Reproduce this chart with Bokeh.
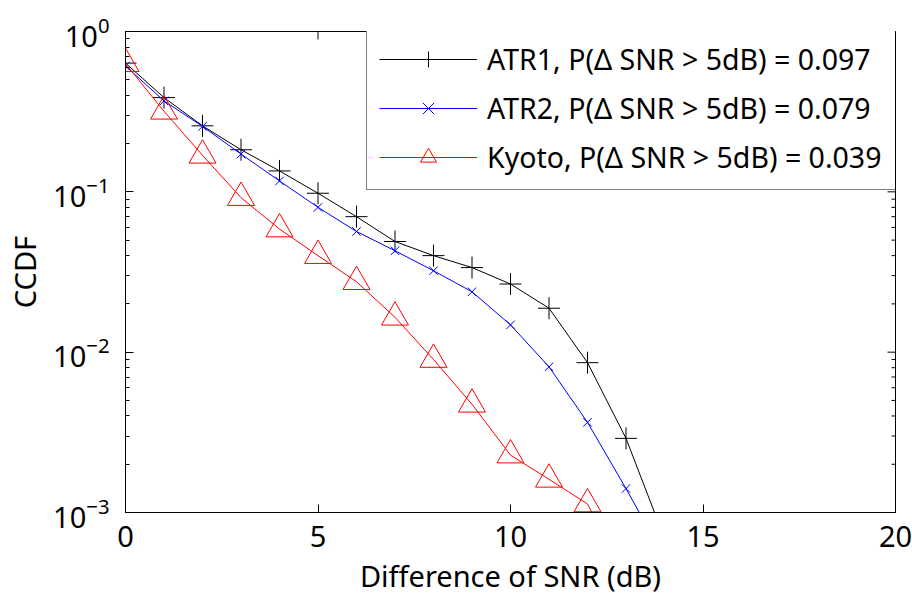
import math
from bokeh.plotting import figure
from bokeh.models import (LogAxis, LinearAxis, Legend, LegendItem, Range1d,
                          FixedTicker, LogTicker)
from bokeh.embed import file_html
from bokeh.resources import INLINE

# ---- data ----
snr_diff_db = [0, 1, 2, 3, 4, 5, 6, 7, 8, 9, 10, 11, 12, 13, 14]
atr1 = [0.635, 0.387, 0.258, 0.183, 0.135, 0.098, 0.070, 0.049, 0.040,
        0.0337, 0.0266, 0.0188, 0.0086, 0.0029, 0.00069]
atr2 = [0.61, 0.369, 0.256, 0.172, 0.117, 0.080, 0.0566, 0.0429, 0.0322,
        0.0238, 0.0148, 0.0081, 0.00365, 0.00141, 0.00052]
kyoto_x = [0, 1, 2, 3, 4, 5, 6, 7, 8, 9, 10, 11, 12, 13]
kyoto = [0.63, 0.318, 0.169, 0.092, 0.0586, 0.040, 0.0275, 0.0165, 0.0090,
         0.00473, 0.00228, 0.00161, 0.00113, 0.0004]

labels = ["ATR1, P(\u0394 SNR > 5dB) = 0.097",
          "ATR2, P(\u0394 SNR > 5dB) = 0.079",
          "Kyoto, P(\u0394 SNR > 5dB) = 0.039"]
x_ticks = [0, 5, 10, 15, 20]
y_major = [1e-3, 1e-2, 1e-1, 1.0]
y_minor = [m * 10.0 ** k for k in (-3, -2, -1) for m in range(2, 10)]
X_MIN, X_MAX = 0, 20
Y_MIN, Y_MAX = 1e-3, 1.0

FONT = "Noto Sans"
FS = "29px"

p = figure(frame_width=770, frame_height=481, output_backend="svg",
           toolbar_location=None, y_axis_type="log",
           x_range=Range1d(X_MIN, X_MAX), y_range=Range1d(Y_MIN, Y_MAX),
           min_border_left=125, min_border_right=17, min_border_top=31,
           min_border_bottom=82, x_axis_location=None, y_axis_location=None)
p.xgrid.visible = False
p.ygrid.visible = False
p.outline_line_color = "black"
p.outline_line_width = 1
p.background_fill_color = "white"
p.border_fill_color = "white"


def style(ax):
    ax.axis_line_color = "black"
    ax.major_tick_in = 8
    ax.major_tick_out = 0
    ax.minor_tick_in = 4
    ax.minor_tick_out = 0
    ax.major_tick_line_color = "black"
    ax.minor_tick_line_color = "black"
    ax.major_label_text_font = FONT
    ax.major_label_text_font_size = FS
    ax.major_label_text_color = "black"
    ax.axis_label_text_font = FONT
    ax.axis_label_text_font_size = FS
    ax.axis_label_text_font_style = "normal"
    ax.axis_label_text_color = "black"


xb = LinearAxis(ticker=FixedTicker(ticks=x_ticks, minor_ticks=[]),
                axis_label="Difference of SNR (dB)")
style(xb)
xb.major_label_standoff = 13
xb.axis_label_standoff = 6
p.add_layout(xb, "below")

yl = LogAxis(ticker=LogTicker(num_minor_ticks=10), axis_label="CCDF")
style(yl)
yl.major_label_standoff = 16
yl.axis_label_standoff = 6
p.add_layout(yl, "left")

# inward ticks on the top and right edges (markers clipped by the frame)
p.scatter([X_MAX] * len(y_major), y_major, marker="dash", size=16,
          line_color="black", line_width=1)
p.scatter([X_MAX] * len(y_minor), y_minor, marker="dash", size=8,
          line_color="black", line_width=1)
p.scatter(x_ticks, [Y_MAX] * len(x_ticks), marker="dash", size=16,
          angle=math.pi / 2, line_color="black", line_width=1)

# ---- series ----
l1 = p.line(snr_diff_db, atr1, line_color="black", line_width=1)
m1 = p.scatter(snr_diff_db, atr1, marker="cross", size=22, line_color="black",
               line_width=1)
l2 = p.line(snr_diff_db, atr2, line_color="blue", line_width=1)
m2 = p.scatter(snr_diff_db, atr2, marker="x", size=12, line_color="blue",
               line_width=1)
l3 = p.line(kyoto_x, kyoto, line_color="red", line_width=1)
m3 = p.scatter(kyoto_x, kyoto, marker="triangle", size=27, line_color="red",
               fill_alpha=0, line_width=1)

legend = Legend(items=[LegendItem(label=labels[0], renderers=[l1, m1]),
                       LegendItem(label=labels[1], renderers=[l2, m2]),
                       LegendItem(label=labels[2], renderers=[l3, m3])],
                location=(241, 322))
legend.label_text_font = FONT
legend.label_text_font_size = "28.5px"
legend.label_text_color = "black"
legend.glyph_width = 98
legend.glyph_height = 40
legend.label_height = 40
legend.label_width = 410
legend.label_standoff = 10
legend.spacing = 9
legend.padding = 12
legend.margin = 0
legend.border_line_color = "black"
legend.border_line_width = 1
legend.background_fill_color = "white"
legend.background_fill_alpha = 1
p.add_layout(legend, "center")

open("out.html", "w").write(file_html(p, INLINE))
